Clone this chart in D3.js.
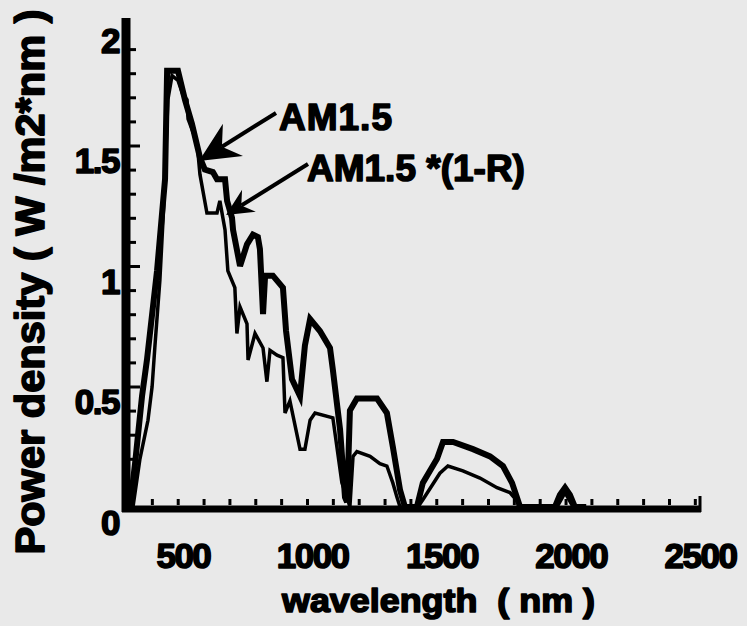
<!DOCTYPE html>
<html>
<head>
<meta charset="utf-8">
<script src="https://cdn.jsdelivr.net/npm/d3@7/dist/d3.min.js"></script>
<style>
  html, body { margin: 0; padding: 0; background: #e9e9e9; }
  svg { display: block; font-family: "Liberation Sans", Arial, sans-serif; font-weight: bold; }
  svg text { fill: #000; stroke: #000; stroke-width: 1.6px; stroke-linejoin: round; }
  .tick line { stroke: #000; stroke-width: 3; }
</style>
</head>
<body>
<svg id="chart" width="747" height="626"></svg>
<script>
  // AM1.5 spectrum (nm, W/m2*nm)
  const am15Wavelength = [295, 315, 342, 361, 400, 431, 439, 481, 508, 535, 566, 585, 616, 632, 663, 671, 690, 694,
    721, 748, 771, 790, 798, 810, 818, 848, 887, 899, 922, 953, 972, 992, 1030, 1069, 1080, 1108, 1127, 1135,
    1146, 1173, 1251, 1289, 1312, 1340, 1359, 1405, 1428, 1483, 1506, 1545, 1622, 1688, 1738, 1773, 1792, 1804,
    1939, 1958, 1978, 1997, 2016, 2060];
  const am15Power = [0, 0.18, 0.46, 0.61, 0.98, 1.36, 1.81, 1.81, 1.69, 1.59, 1.45, 1.40, 1.39, 1.36, 1.36, 1.27, 1.20, 1.15,
    1.00, 1.09, 1.13, 1.12, 1.07, 0.80, 0.96, 0.96, 0.91, 0.73, 0.53, 0.46, 0.67, 0.78, 0.73, 0.66, 0.57, 0.32, 0.04, 0.02,
    0.40, 0.45, 0.45, 0.39, 0.25, 0.07, 0, 0, 0.10, 0.20, 0.27, 0.27, 0.24, 0.21, 0.17, 0.10, 0.04, 0,
    0, 0.05, 0.08, 0.05, 0, 0];

  // AM1.5 * (1-R)
  const amrWavelength = [307, 334, 365, 381, 392, 411, 427, 442, 458, 481, 500, 516, 520, 555, 566, 593, 632, 643, 663,
    674, 701, 709, 721, 748, 752, 779, 810, 825, 837, 864, 887, 895, 914, 953, 972, 992, 1011, 1080, 1115, 1135,
    1146, 1158, 1173, 1224, 1262, 1289, 1312, 1328, 1340, 1409, 1428, 1494, 1525, 1583, 1649, 1715, 1765, 1796,
    1811, 1947, 1978, 2009];
  const amrPower = [0, 0.20, 0.36, 0.50, 0.67, 0.94, 1.27, 1.69, 1.79, 1.77, 1.71, 1.69, 1.61, 1.51, 1.38, 1.22, 1.22, 1.27, 1.15,
    0.98, 0.91, 0.72, 0.83, 0.76, 0.61, 0.72, 0.66, 0.52, 0.65, 0.63, 0.62, 0.39, 0.44, 0.24, 0.24, 0.36, 0.39, 0.37, 0.10, 0.04,
    0, 0.21, 0.23, 0.21, 0.18, 0.17, 0.10, 0.04, 0, 0, 0.03, 0.14, 0.17, 0.15, 0.12, 0.08, 0.06, 0.02,
    0, 0, 0.06, 0];

  const xLabels = [500, 1000, 1500, 2000, 2500];
  const yLabels = [0, 0.5, 1, 1.5, 2];

  const svg = d3.select('#chart');
  const x = d3.scaleLinear().domain([280, 2500]).range([126, 700]);
  const y = d3.scaleLinear().domain([0, 2]).range([507, 25]);

  // minor ticks, inward
  svg.append('g')
    .attr('transform', 'translate(0,505)')
    .call(d3.axisTop(x).tickValues(d3.range(380, 2500, 100)).tickSize(6).tickFormat(''))
    .call(g => g.select('.domain').remove());

  svg.append('g')
    .attr('transform', 'translate(129,0)')
    .call(d3.axisRight(y).tickValues(d3.range(1, 20).map(d => d / 10)).tickSize(7).tickFormat(''))
    .call(g => g.select('.domain').remove())
    .call(g => g.selectAll('.tick line').attr('x2', d => Math.round(d * 10) % 5 === 0 ? 11 : 7));

  // axis lines
  svg.append('line').attr('x1', 126).attr('x2', 126).attr('y1', 18).attr('y2', 512)
    .attr('stroke', '#000').attr('stroke-width', 9);
  svg.append('line').attr('x1', 122).attr('x2', 701).attr('y1', 509).attr('y2', 509)
    .attr('stroke', '#000').attr('stroke-width', 7);
  svg.append('line').attr('x1', 700).attr('x2', 700).attr('y1', 496).attr('y2', 512)
    .attr('stroke', '#000').attr('stroke-width', 3);

  // tick labels
  svg.append('g')
    .attr('transform', 'translate(0,568)')
    .call(d3.axisBottom(x).tickValues(xLabels).tickSize(0).tickPadding(0).tickFormat(d3.format('d')))
    .call(g => g.select('.domain').remove())
    .call(g => g.selectAll('text').attr('dy', 0).attr('fill', '#000')
      .style('font-size', '35px').style('font-family', '"Liberation Sans", Arial, sans-serif').style('font-weight', 'bold')
      .style('letter-spacing', '-1.5px'));

  svg.append('g')
    .attr('transform', 'translate(119,27)')
    .call(d3.axisLeft(y).tickValues(yLabels).tickSize(0).tickPadding(0).tickFormat(d => String(d)))
    .call(g => g.select('.domain').remove())
    .call(g => g.selectAll('text').attr('dy', 0).attr('fill', '#000')
      .style('font-size', '35px').style('font-family', '"Liberation Sans", Arial, sans-serif').style('font-weight', 'bold')
      .style('letter-spacing', '-1.5px'));

  // curves
  const line = d3.line().x(d => x(d[0])).y(d => y(d[1]));
  svg.append('path')
    .datum(d3.zip(amrWavelength, amrPower))
    .attr('d', line).attr('fill', 'none').attr('stroke', '#000')
    .attr('stroke-width', 3.5).attr('stroke-linejoin', 'miter');
  svg.append('path')
    .datum(d3.zip(am15Wavelength, am15Power))
    .attr('d', line).attr('fill', 'none').attr('stroke', '#000')
    .attr('stroke-width', 6).attr('stroke-linejoin', 'miter');

  // annotations
  function arrow(x1, y1, x2, y2, len, half, notch) {
    const dx = x1 - x2, dy = y1 - y2, l = Math.hypot(dx, dy);
    const ux = dx / l, uy = dy / l, nx = -uy, ny = ux;
    svg.append('line').attr('x1', x1).attr('y1', y1)
      .attr('x2', x2 + ux * notch).attr('y2', y2 + uy * notch)
      .attr('stroke', '#000').attr('stroke-width', 4);
    const pts = [
      [x2, y2],
      [x2 + ux * len + nx * half, y2 + uy * len + ny * half],
      [x2 + ux * notch, y2 + uy * notch],
      [x2 + ux * len - nx * half, y2 + uy * len - ny * half]
    ];
    svg.append('path').attr('d', 'M' + pts.join('L') + 'Z').attr('fill', '#000');
  }
  arrow(276, 113, 199, 161, 40, 19, 27);
  arrow(308, 164, 226, 215, 27, 13, 18);

  svg.append('text').attr('x', 279).attr('y', 130).text('AM1.5')
    .style('font-size', '37px').style('letter-spacing', '1px');
  svg.append('text').attr('x', 307).attr('y', 181).text('AM1.5 *(1-R)')
    .style('font-size', '37px').style('letter-spacing', '0px');

  // axis titles
  svg.append('text').attr('x', 282).attr('y', 612)
    .attr('textLength', 313).attr('lengthAdjust', 'spacingAndGlyphs')
    .text('wavelength  ( nm )').style('font-size', '33px').style('white-space', 'pre');
  svg.append('text')
    .attr('transform', 'translate(44,282) rotate(-90)')
    .attr('text-anchor', 'middle')
    .attr('textLength', 545).attr('lengthAdjust', 'spacingAndGlyphs')
    .text('Power density ( W /m2*nm )').style('font-size', '40px');
</script>
</body>
</html>
